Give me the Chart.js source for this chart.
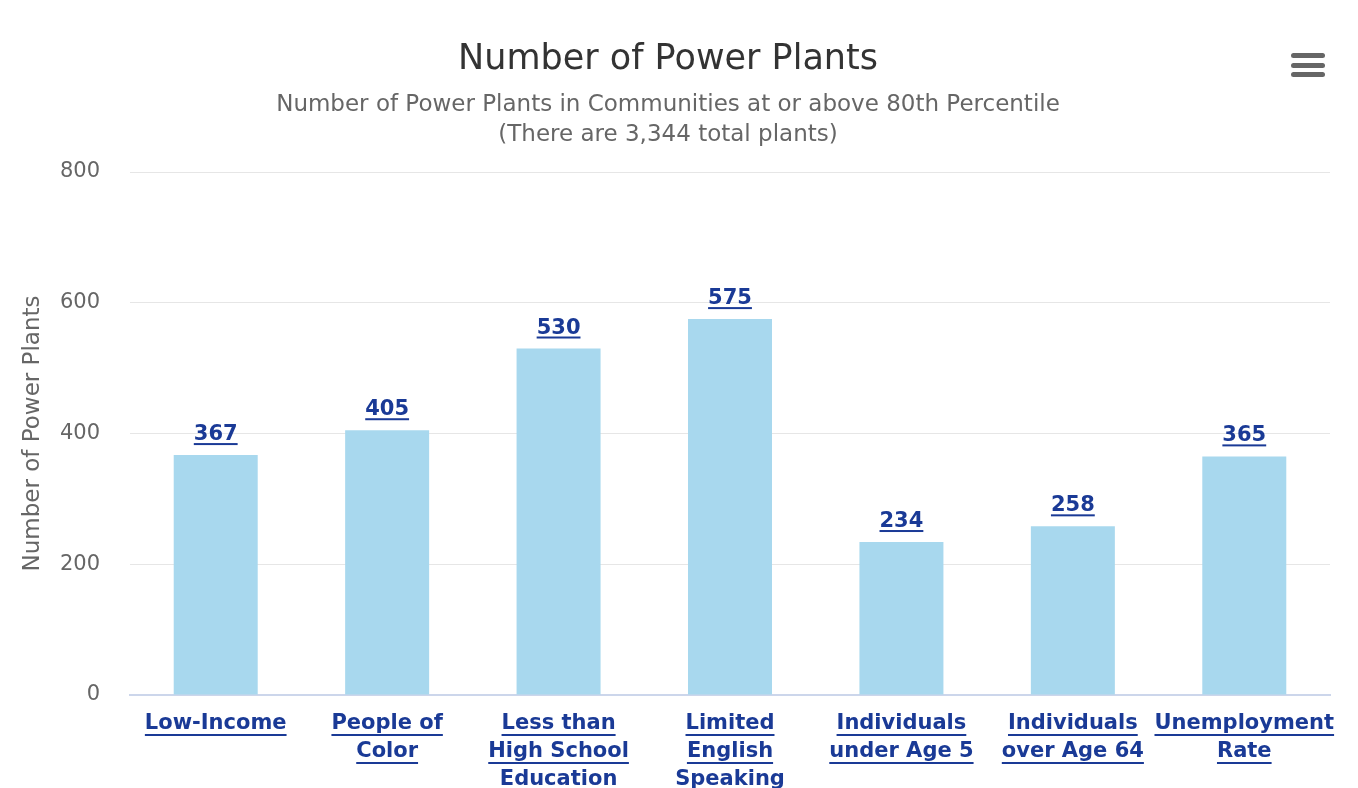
<!DOCTYPE html>
<html>
<head>
<meta charset="utf-8">
<title>Number of Power Plants</title>
<script src="https://cdn.jsdelivr.net/npm/chart.js@4.4.1/dist/chart.umd.min.js"></script>
<style>
    body { margin: 0; overflow: hidden; background: #fff; }
    #wrap { position: absolute; left: 0; top: 0; width: 1358px; height: 800px; }
    #menu { position: absolute; left: 1291px; top: 53px; width: 34px; }
    #menu div { height: 5px; background: #666; border-radius: 3px; margin-bottom: 4.5px; }
</style>
</head>
<body>
<div id="wrap"><canvas id="plants-chart"></canvas></div>
<div id="menu"><div></div><div></div><div></div></div>
<script>
const categories = [
    ['Low-Income'],
    ['People of', 'Color'],
    ['Less than', 'High School', 'Education'],
    ['Limited', 'English', 'Speaking'],
    ['Individuals', 'under Age 5'],
    ['Individuals', 'over Age 64'],
    ['Unemployment', 'Rate']
];
const plantCounts = [367, 405, 530, 575, 234, 258, 365];
const yTicks = [0, 200, 400, 600, 800];

const fontFamily = '"DejaVu Sans", Verdana, sans-serif';
const linkColor = '#1a3a96';
const xTickPadding = 15;
const xLineHeight = 28;

// draw a line under text drawn with textAlign center
function underline(ctx, text, x, y, color) {
    const w = ctx.measureText(text).width;
    ctx.fillStyle = color;
    ctx.fillRect(x - w / 2, y, w, 2);
}

// value labels above bars + blue underlined category labels
const linkLabels = {
    id: 'linkLabels',
    afterDatasetsDraw(chart) {
        const ctx = chart.ctx;
        const meta = chart.getDatasetMeta(0);
        ctx.save();
        ctx.font = 'bold 21px ' + fontFamily;
        ctx.textAlign = 'center';
        ctx.textBaseline = 'alphabetic';
        meta.data.forEach((bar, i) => {
            const text = String(plantCounts[i]);
            ctx.fillStyle = linkColor;
            ctx.fillText(text, bar.x, bar.y - 15);
            underline(ctx, text, bar.x, bar.y - 12, linkColor);
        });

        const xScale = chart.scales.x;
        categories.forEach((lines, i) => {
            const x = xScale.getPixelForTick(i);
            lines.forEach((line, j) => {
                const y = xScale.top + xTickPadding + xLineHeight / 2 + j * xLineHeight;
                ctx.fillStyle = linkColor;
                ctx.textBaseline = 'middle';
                ctx.fillText(line, x, y);
                underline(ctx, line, x, y + 10, linkColor);
            });
        });
        ctx.restore();
    }
};

const ctx = document.getElementById('plants-chart').getContext('2d');
const plantsChart = new Chart(ctx, {
    type: 'bar',
    data: {
        labels: categories,
        datasets: [{
            label: 'Number of Power Plants',
            data: plantCounts,
            backgroundColor: '#a8d8ee',
            barPercentage: 0.49,
            categoryPercentage: 1
        }]
    },
    options: {
        responsive: true,
        maintainAspectRatio: false,
        animation: false,
        layout: { padding: { left: 6, right: 28, top: 0, bottom: 5 } },
        plugins: {
            legend: { display: false },
            tooltip: { enabled: false },
            title: {
                display: true,
                text: 'Number of Power Plants',
                color: '#333',
                font: { family: fontFamily, size: 35, weight: 'normal' },
                padding: { top: 39, bottom: 9 }
            },
            subtitle: {
                display: true,
                text: ['Number of Power Plants in Communities at or above 80th Percentile', '(There are 3,344 total plants)'],
                color: '#666',
                font: { family: fontFamily, size: 23, lineHeight: 30 / 23 },
                padding: { top: 0, bottom: 22 }
            }
        },
        scales: {
            x: {
                grid: { display: false },
                border: { color: '#ccd6eb', width: 2 },
                afterFit(scale) { scale.height = 100; },
                ticks: {
                    autoSkip: false,
                    maxRotation: 0,
                    padding: xTickPadding,
                    color: 'rgba(0,0,0,0)',
                    font: { family: fontFamily, size: 21, weight: 'bold', lineHeight: xLineHeight / 21 }
                }
            },
            y: {
                min: yTicks[0],
                max: yTicks[yTicks.length - 1],
                afterBuildTicks(scale) {
                    scale.ticks = yTicks.map(v => ({ value: v }));
                },
                afterFit(scale) { scale.width = 124; },
                grid: { color: '#e6e6e6', drawTicks: false },
                border: { display: false },
                ticks: {
                    padding: 30,
                    color: '#666',
                    font: { family: fontFamily, size: 21 }
                },
                title: {
                    display: true,
                    text: 'Number of Power Plants',
                    color: '#666',
                    font: { family: fontFamily, size: 23 },
                    padding: 13
                }
            }
        }
    },
    plugins: [linkLabels]
});
</script>
</body>
</html>
